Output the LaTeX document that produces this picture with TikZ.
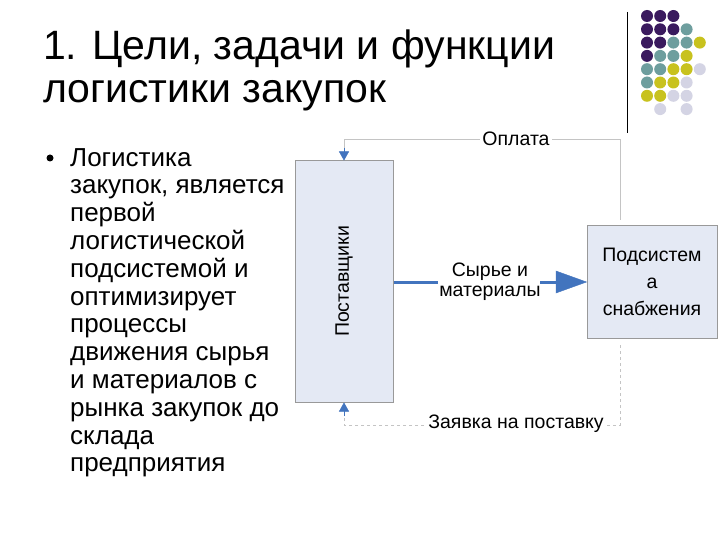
\documentclass[tikz,border=0pt]{standalone}
\usepackage{fontspec}
\setmainfont{Liberation Sans}
\usetikzlibrary{arrows.meta}
\definecolor{pur}{HTML}{3A1A5E}
\definecolor{teal}{HTML}{6E9E9E}
\definecolor{yel}{HTML}{C8C21E}
\definecolor{lgr}{HTML}{D4D4E4}
\definecolor{boxf}{HTML}{E4E9F4}
\definecolor{arr}{HTML}{4274BE}
\definecolor{conn}{HTML}{C4C4C4}
\tikzset{
 dot/.style={circle,inner sep=0pt,minimum size=12pt},
 blk/.style={draw=gray!80,fill=boxf,line width=1pt,inner sep=0pt},
 conline/.style={draw=conn,line width=0.9pt},
 tip/.style={-{Triangle[length=9pt,width=10pt]},arr},
 lbl/.style={fill=white,inner sep=2pt,font=\fontsize{19.5}{22}\selectfont}
}
\begin{document}
\begin{tikzpicture}[x=1pt,y=-1pt]
\useasboundingbox (0,0) rectangle (720,540);
\fill[white] (0,0) rectangle (720,540);
% title
\node[anchor=base west,inner sep=0pt,font=\fontsize{41}{44}\selectfont] (t1) at (43,60) {1. Цели, задачи и функции};
\node[anchor=base west,inner sep=0pt,font=\fontsize{41}{44}\selectfont] (t2) at (43,103) {логистики закупок};
% vertical line
\draw[line width=1pt] (627,12) -- (627,133);
% dots
\foreach \c/\r/\col in {0/0/pur,1/0/pur,2/0/pur,
 0/1/pur,1/1/pur,2/1/pur,3/1/teal,
 0/2/pur,1/2/pur,2/2/teal,3/2/teal,4/2/yel,
 0/3/pur,1/3/teal,2/3/teal,3/3/yel,
 0/4/teal,1/4/teal,2/4/yel,3/4/yel,4/4/lgr,
 0/5/teal,1/5/yel,2/5/yel,3/5/lgr,
 0/6/yel,1/6/yel,2/6/lgr,3/6/lgr,
 1/7/lgr,3/7/lgr}
 \node[dot,fill=\col] (d\c\r) at (647+13.2*\c,16+13.3*\r) {};
% bullet text
\node[circle,fill=black,inner sep=0pt,minimum size=7pt] (b) at (50,158) {};
\node[anchor=north west,align=left,inner sep=0pt,font=\fontsize{26}{27.8}\selectfont] (txt) at (70,148)
 {Логистика\\закупок, является\\первой\\логистической\\подсистемой и\\оптимизирует\\процессы\\движения сырья\\и материалов с\\рынка закупок до\\склада\\предприятия};
% boxes
\node[blk,minimum width=98pt,minimum height=241pt] (sup) at (344,281.5) {};
\node[rotate=90,font=\fontsize{19.5}{22}\selectfont] (supl) at (344,281.5) {Поставщики};
\node[blk,minimum width=130pt,minimum height=112pt,align=center,font=\fontsize{19.5}{27}\selectfont] (sub) at (652,282) {Подсистем\\а\\снабжения};
% coordinates
\coordinate (c1) at (344,139);
\coordinate (c2) at (620,139);
\coordinate (c3) at (620,220);
\coordinate (c4) at (620,345);
\coordinate (c5) at (620,425);
\coordinate (c6) at (344,425);
% top connector
\draw[conline] (c3) -- (c2) -- (c1) -- (344,150);
\draw[tip] (344,148) -- (sup.north);
\node[lbl] (opl) at (516,139) {Оплата};
% bottom connector
\draw[conline,dashed] (c4) -- (c5) -- (c6) -- (344,414);
\draw[tip] (344,416) -- (sup.south);
\node[lbl] (zay) at (516,424) {Заявка на поставку};
% middle arrow
\draw[arr,line width=3pt] (sup.east |- 0,282) -- (438,282);
\draw[arr,line width=3pt] (540,282) -- (556,282);
\draw[arr,fill=arr] (556,271) -- (sub.west) -- (556,293) -- cycle;
\node[align=center,font=\fontsize{19.5}{20}\selectfont] (syr) at (490,282) {Сырье и\\материалы};
\end{tikzpicture}
\end{document}
